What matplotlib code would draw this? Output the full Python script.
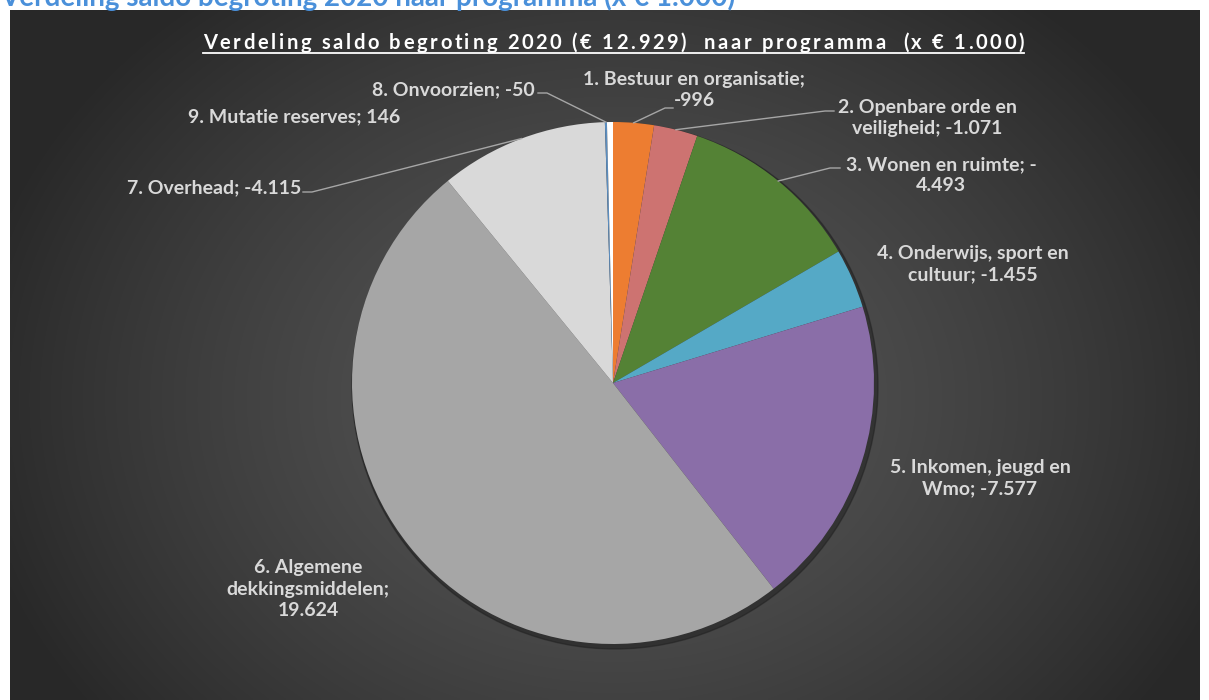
import numpy as np
import matplotlib
matplotlib.use("Agg")
import matplotlib.pyplot as plt

# data (x EUR 1.000)
labels = [
    "1. Bestuur en organisatie;\n-996",
    "2. Openbare orde en\nveiligheid; -1.071",
    "3. Wonen en ruimte; -\n4.493",
    "4. Onderwijs, sport en\ncultuur; -1.455",
    "5. Inkomen, jeugd en\nWmo; -7.577",
    "6. Algemene\ndekkingsmiddelen;\n19.624",
    "7. Overhead; -4.115",
    "8. Onvoorzien; -50",
    "9. Mutatie reserves; 146",
]
values = [-996, -1071, -4493, -1455, -7577, 19624, -4115, -50, 146]
colors = ["#ED7D31", "#CD7371", "#548235", "#55A9C6", "#8A6EA8",
          "#A6A6A6", "#D9D9D9", "#5B8DBF", "#FFFFFF"]

W, H = 1209, 700
fig = plt.figure(figsize=(W / 100, H / 100), dpi=100)
fig.patch.set_facecolor("white")
ax = fig.add_axes([0, 0, 1, 1])

def py(y):
    # pixel row (top-down) -> data y
    return H - y

# radial gradient panel
px0, px1, pt, pb = 10, 1200, 10, 700
gx = np.linspace(px0, px1, 400)
gy = np.linspace(pt, pb, 240)
XX, YY = np.meshgrid(gx, gy)
r = np.sqrt(((XX - 614) / 650) ** 2 + ((YY - 400) / 520) ** 2)
shade = 0.34 - 0.18 * np.clip(r, 0, 1) ** 1.4
img = np.dstack([shade, shade, shade])
ax.imshow(img, extent=[px0, px1, py(pb), py(pt)], origin="upper",
          aspect="auto", zorder=0, interpolation="bilinear")

# pie
cx, cy, R = 613, 383, 261
sizes = [abs(v) for v in values]
wedges, _ = ax.pie(sizes, colors=colors, startangle=90, counterclock=False,
                   center=(cx, py(cy)), radius=R, frame=True,
                   wedgeprops=dict(linewidth=0))
for w in wedges:
    w.set_zorder(3)
shadow = plt.Circle((cx + 2, py(cy) - 3), R + 2, color="#1e1e1e", alpha=0.5, zorder=2)
ax.add_patch(shadow)
ax.set_xlim(0, W)
ax.set_ylim(0, H)
ax.set_aspect("equal")
ax.axis("off")

txt_color = "#D9D9D9"
font = "Lato"
fs = 14

# label layout: (x, y, ha)
label_pos = [
    (694, 90, "center"),
    (927, 118, "center"),
    (941, 175, "center"),
    (973, 264, "center"),
    (980, 478, "center"),
    (308, 589, "center"),
    (301, 188, "right"),
    (535, 90, "right"),
    (400, 117, "right"),
]
for lab, (x, y, ha) in zip(labels, label_pos):
    ax.text(x, py(y), lab, ha=ha, va="center", multialignment="center",
            color=txt_color, fontsize=fs, fontweight="bold", family=font,
            linespacing=1.3, zorder=5)

# leader lines: elbow and end points per labelled slice
leaders = {0: [(665, 108), (673, 108)],
           1: [(825, 111), (834, 111)],
           2: [(830, 168), (840, 168)],
           6: [(312, 192), (303, 192)],
           7: [(547, 93), (538, 93)]}
for i, pts in leaders.items():
    w = wedges[i]
    mid = np.deg2rad((w.theta1 + w.theta2) / 2)
    ex = cx + R * np.cos(mid)
    ey = py(cy) + R * np.sin(mid)
    xs = [ex] + [p[0] for p in pts]
    ys = [ey] + [py(p[1]) for p in pts]
    ax.plot(xs, ys, color="#A6A6A6", lw=1.0, zorder=4)

# chart title, letter-spaced and underlined
title = "Verdeling saldo begroting 2020 (€ 12.929)  naar programma  (x € 1.000)"
t_left, t_right, t_y = 203, 1024, 43
fig.canvas.draw()
renderer = fig.canvas.get_renderer()
tfs = 14.5
widths = []
for ch in title:
    tmp = ax.text(0, 0, "x" + ch + "x", fontsize=tfs, fontweight="bold", family=font)
    wfull = tmp.get_window_extent(renderer).width
    tmp.remove()
    tmp = ax.text(0, 0, "xx", fontsize=tfs, fontweight="bold", family=font)
    wxx = tmp.get_window_extent(renderer).width
    tmp.remove()
    widths.append(wfull - wxx)
extra = ((t_right - t_left) - sum(widths)) / (len(title) - 1)
x = t_left
for ch, cw in zip(title, widths):
    ax.text(x, py(t_y), ch, ha="left", va="center", color="white",
            fontsize=tfs, fontweight="bold", family=font, zorder=5)
    x += cw + extra
ax.plot([t_left, t_right], [py(t_y + 10), py(t_y + 10)], color="white", lw=1.3, zorder=5)

# page heading (partially cut off at the top)
fig.text(0.0, (H - 6) / H, "Verdeling saldo begroting 2020 naar programma (x € 1.000)",
         ha="left", va="baseline", color="#4A90DA", fontsize=20,
         fontweight="bold", family=font)

fig.savefig("out.png", dpi=100)
